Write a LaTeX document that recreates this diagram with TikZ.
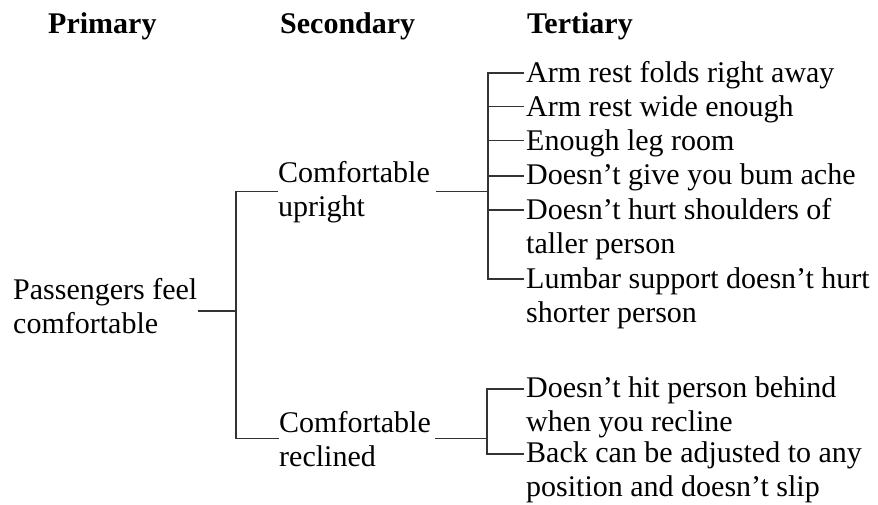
\documentclass[tikz,border=0pt]{standalone}
\usepackage{fontspec}
\setmainfont{Liberation Serif}
\usepackage{tikz}
\usetikzlibrary{positioning}

\begin{document}
\begin{tikzpicture}[
    x=1pt, y=-1pt,
    every node/.style={inner sep=0pt, font=\fontsize{30}{34}\selectfont},
    head/.style={anchor=base west, font=\fontsize{30}{34}\selectfont\bfseries},
    item/.style={anchor=base west, align=left},
    link/.style={line width=1.5pt, draw=black!80}
]
\useasboundingbox (0,0) rectangle (878,504);

\node[head] (hprim) at (48,33) {Primary};
\node[head] (hsec) at (280,33) {Secondary};
\node[head] (hter) at (527,33) {Tertiary};

% two-line nodes sit on the baseline of their last line
\node[item] (pri) at (13,333) {Passengers feel\\comfortable};
\node[item] (up) at (278,216) {Comfortable\\upright};
\node[item] (rec) at (279,466) {Comfortable\\reclined};

\node[item] (a1) at (526,82) {Arm rest folds right away};
\node[item, below=34.3pt of a1.base west, anchor=base west] (a2) {Arm rest wide enough};
\node[item, below=34.3pt of a2.base west, anchor=base west] (a3) {Enough leg room};
\node[item, below=34.3pt of a3.base west, anchor=base west] (a4) {Doesn’t give you bum ache};
\node[item, below=68.3pt of a4.base west, anchor=base west] (a5) {Doesn’t hurt shoulders of\\taller person};
\node[item, below=68.8pt of a5.base west, anchor=base west] (a6) {Lumbar support doesn’t hurt\\shorter person};

\node[item] (b1) at (526,431) {Doesn’t hit person behind\\when you recline};
\node[item, below=65pt of b1.base west, anchor=base west] (b2) {Back can be adjusted to any\\position and doesn’t slip};

\coordinate (j0) at (236,311);
\coordinate (k1) at (488,192);
\coordinate (k2) at (487,439);

\draw[link] (pri.east |- j0) -- (j0);
\draw[link] (up.west) -| (j0) |- (rec.west);

\draw[link] ([xshift=6pt]up.east) -- (up.east -| k1);
\foreach \t/\h in {a1/9,a2/10,a3/10,a4/9,a5/43,a6/43}
    \draw[link] ([xshift=-2pt,yshift=\h pt]\t.base west) -| (up.east -| k1);

\draw[link] ([xshift=4pt]rec.east) -- (rec.east -| k2);
\foreach \t in {b1,b2}
    \draw[link] ([xshift=-2pt,yshift=42pt]\t.base west) -| (rec.east -| k2);
\end{tikzpicture}
\end{document}
